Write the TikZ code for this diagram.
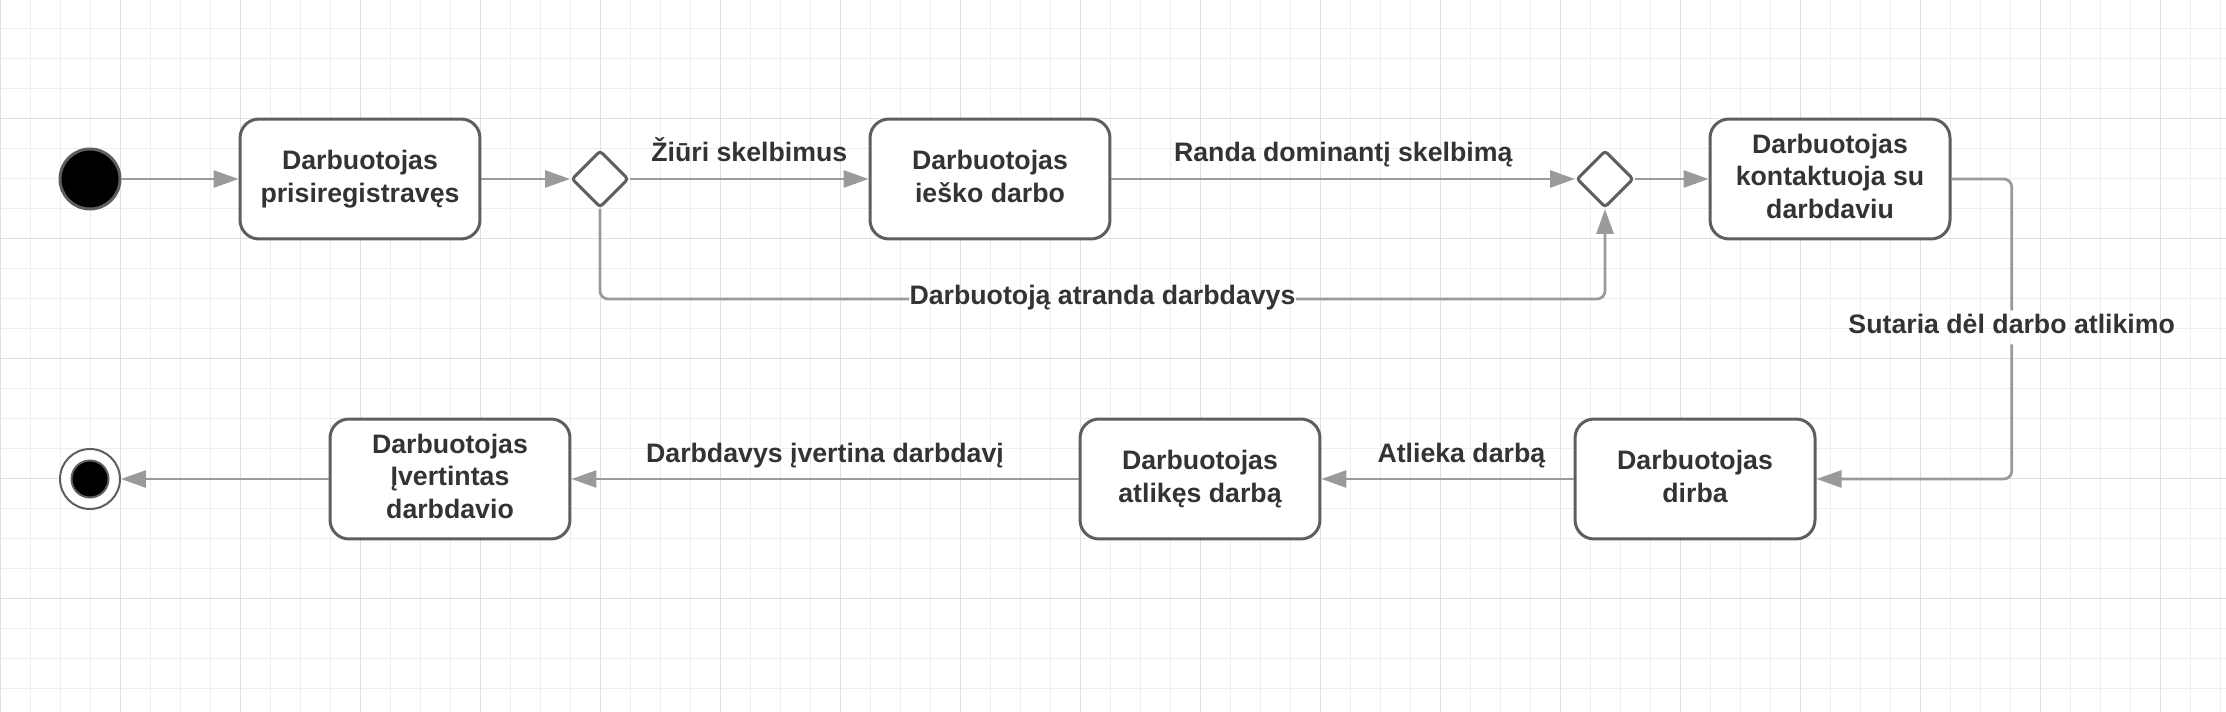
\documentclass[tikz,border=0pt]{standalone}
\usepackage{fontspec}
\setmainfont{Liberation Sans}
\usetikzlibrary{shapes.geometric,arrows.meta}
\definecolor{edgegray}{HTML}{9A9A9A}
\definecolor{linegray}{HTML}{5E5E5E}
\definecolor{textgray}{HTML}{333333}
\definecolor{gridlight}{HTML}{EEEEEE}
\definecolor{griddark}{HTML}{E0E0E0}
\newcommand{\lblfont}{\fontsize{15.2pt}{18.6pt}\selectfont\bfseries}
\begin{document}
\begin{tikzpicture}
		[	x=0.02cm,y=-0.02cm,
		act/.style={rectangle,rounded corners=0.38cm,draw=linegray,line width=0.06cm,fill=white,minimum width=4.8cm,minimum height=2.4cm,align=center,text depth=0.115cm,inner sep=0pt,font=\lblfont,text=textgray},
		choice/.style={diamond,draw=linegray,line width=0.06cm,fill=white,minimum width=1.14cm,minimum height=1.14cm,inner sep=0pt,rounded corners=0.06cm},
		link/.style={draw=edgegray,line width=0.055cm,rounded corners=0.16cm},
		flow/.style={link,-{Triangle[length=0.5cm,width=0.34cm]}},
		lbl/.style={font=\lblfont,text=textgray,anchor=base,yshift=0.34cm,inner sep=0pt},
		cut/.style={font=\lblfont,text=textgray,inner sep=0pt,text height=0.452cm,text depth=0.214cm},
		gridminor/.style={draw=gridlight,line width=0.02cm},
		gridmajor/.style={draw=griddark,line width=0.02cm}
		]
		\useasboundingbox (0,0) rectangle (2226,712);
		\fill[white] (0,0) rectangle (2226,712);
% background grid
\foreach \gx in {0,30,...,2220} \draw[gridminor] (\gx,0) -- (\gx,712);
\foreach \gy in {28.3,58.3,...,690} \draw[gridminor] (0,\gy) -- (2226,\gy);
\foreach \gx in {0,120,...,2220} \draw[gridmajor] (\gx,0) -- (\gx,712);
\foreach \gy in {118.3,238.3,...,712} \draw[gridmajor] (0,\gy) -- (2226,\gy);
		\node[circle,fill=black,draw=linegray,line width=0.06cm,minimum size=1.2cm,inner sep=0pt] (start) at (90,179){};
		\node[act] (reg) at (360,179){Darbuotojas\\prisiregistravęs};
		\node[choice] (d1) at (600,179){};
		\node[act] (iesko) at (990,179){Darbuotojas\\ieško darbo};
		\node[choice] (d2) at (1605,179){};
		\node[act] (kontakt) at (1830,179){Darbuotojas\\kontaktuoja su\\darbdaviu};
		\node[act] (dirba) at (1695,479){Darbuotojas\\dirba};
		\node[act] (atlikes) at (1200,479){Darbuotojas\\atlikęs darbą};
		\node[act] (ivert) at (450,479){Darbuotojas\\Įvertintas\\darbdavio};
		\node[circle,draw=linegray,line width=0.04cm,fill=white,minimum size=1.2cm,inner sep=0pt] (stop) at (90,479){};
		\node[circle,fill=black,draw=linegray,line width=0.04cm,minimum size=0.74cm,inner sep=0pt] (stopdot) at (stop){};
\node[cut] (atranda) at (1102.5,299){Darbuotoją atranda darbdavys};
\node[cut] (sutaria) at (2011.7,327.3){Sutaria dėl darbo atlikimo};
		\draw[flow] (start.east) -- (reg.west);
		\draw[flow] (reg.east) -- (d1.west);
		\draw[flow] (d1.east) -- node[lbl]{Žiūri skelbimus} (iesko.west);
		\draw[flow] (iesko.east) -- node[lbl]{Randa dominantį skelbimą} (d2.west);
		\draw[flow] (d2.east) -- (kontakt.west);
		\draw[link] (d1.south) |- (atranda.west);
		\draw[flow] (atranda.east) -| (d2.south);
		\draw[link] (kontakt.east) -| (sutaria.north);
		\draw[flow] (sutaria.south) |- (dirba.east);
		\draw[flow] (dirba.west) -- node[lbl,pos=0.445]{Atlieka darbą} (atlikes.east);
		\draw[flow] (atlikes.west) -- node[lbl]{Darbdavys įvertina darbdavį} (ivert.east);
		\draw[flow] (ivert.west) -- (stop.east);
\end{tikzpicture}
\end{document}
